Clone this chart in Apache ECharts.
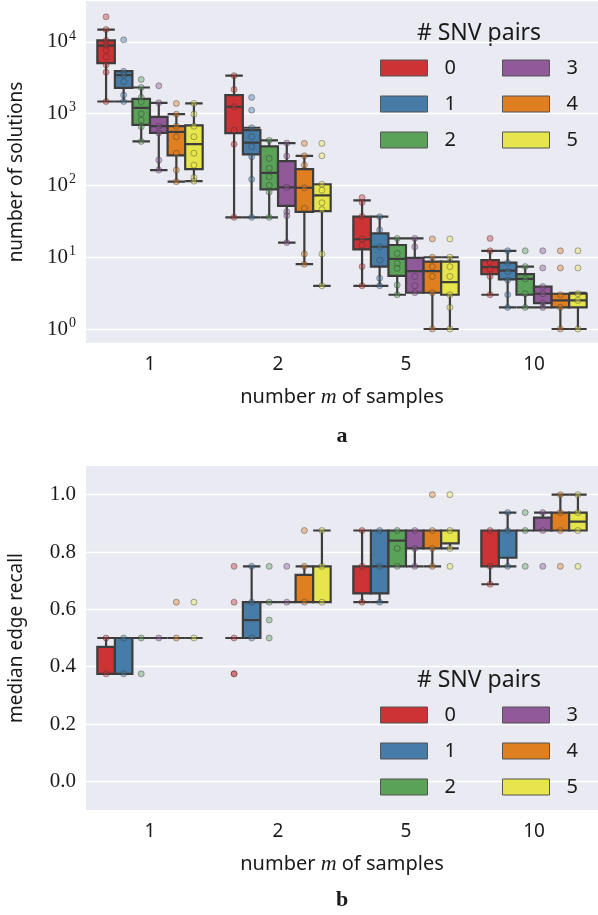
<!DOCTYPE html>
<html>
<head>
<meta charset="utf-8">
<script src="https://cdn.jsdelivr.net/npm/echarts@6/dist/echarts.min.js"></script>
<style>html,body{margin:0;padding:0;background:#fff;}#c{width:598px;height:915px;}</style>
</head>
<body>
<div id="c"></div>
<script>
// ---------- data ----------
const categories = ['1', '2', '5', '10'];
const hues = ['0', '1', '2', '3', '4', '5'];
const colors = ['#cb3335', '#477ca8', '#59a257', '#905998', '#df7f20', '#e6e64c'];

// panel a: number of solutions, box stats [min, Q1, median, Q3, max] per category
const solBox0 = [[1480, 5070, 8900, 10500, 14900], [36, 537, 1250, 1820, 3390], [4, 12.9, 17.8, 36.7, 62], [3, 5.8, 7.3, 9.1, 12.3]];
const solBox1 = [[1480, 2290, 3450, 3920, 3920], [36, 271, 395, 590, 638], [4, 7.4, 14, 21.5, 36.7], [2, 4.9, 6.5, 8.4, 12.3]];
const solBox2 = [[411, 700, 1210, 1610, 2320], [36, 88, 150, 351, 425], [3, 5.5, 9.5, 14.8, 18.3], [2, 3, 5, 5.8, 7.4]];
const solBox3 = [[164, 542, 671, 906, 1420], [16, 52, 94, 218, 390], [3.2, 3.2, 6.4, 9.8, 18.3], [2, 2.3, 3.1, 3.9, 3.9]];
const solBox4 = [[113, 262, 560, 671, 987], [8, 43, 93, 169, 259], [1, 3.2, 6.4, 8.7, 10], [1, 2, 2.5, 3.1, 3.1]];
const solBox5 = [[115, 169, 377, 688, 1390], [4, 44, 73, 104, 104], [1, 3, 4.5, 8.7, 10], [1, 2, 2.5, 3.1, 3.2]];
// observations (strip points) per category
const solPts0 = [[22400, 14900, 10500, 8900, 7700, 6200, 4800, 3800, 1480], [3390, 2180, 1250, 590, 377, 36], [68, 58, 37, 18, 14.8, 7.4, 4], [18.3, 12.3, 8.5, 6.8, 5.4, 3]];
const solPts1 = [[10700, 3900, 3450, 2790, 1820, 1480], [1690, 1120, 638, 478, 348, 251, 122, 36], [36.7, 23.9, 14, 9.1, 5.1, 4], [12.3, 8.4, 6.3, 4.8, 3, 2]];
const solPts2 = [[3000, 2320, 1690, 1470, 1000, 815, 660, 411], [425, 238, 173, 132, 101, 81, 36], [18.3, 11.3, 8.2, 7, 4.1, 3], [12.3, 7.4, 5, 3.1, 2]];
const solPts3 = [[2450, 1420, 670, 540, 226, 164], [390, 257, 94, 43, 38, 16], [18.3, 14, 5.4, 4, 3.2], [12.3, 7.1, 3.9, 3.1, 2.3, 2]];
const solPts4 = [[1390, 987, 670, 478, 282, 164, 113], [386, 259, 192, 93, 48, 11.1, 8], [18, 10, 7.4, 5.4, 3.2, 1], [12.3, 7.1, 3, 2, 1]];
const solPts5 = [[1390, 987, 670, 478, 282, 192, 129, 115], [386, 259, 104, 86, 57.5, 46, 11.1, 4], [18, 10, 7.4, 5.4, 3, 2, 1], [12.3, 7.1, 3.1, 2.5, 1]];

// panel b: median edge recall
const recBox0 = [[0.375, 0.375, 0.375, 0.469, 0.5], [0.5, 0.5, 0.5, 0.5, 0.5], [0.625, 0.656, 0.75, 0.75, 0.875], [0.6875, 0.75, 0.875, 0.875, 0.875]];
const recBox1 = [[0.375, 0.375, 0.5, 0.5, 0.5], [0.5, 0.5, 0.5625, 0.625, 0.75], [0.625, 0.656, 0.75, 0.875, 0.875], [0.75, 0.78, 0.875, 0.875, 0.9375]];
const recBox2 = [[0.5, 0.5, 0.5, 0.5, 0.5], [0.625, 0.625, 0.625, 0.625, 0.625], [0.75, 0.75, 0.84, 0.875, 0.875], [0.875, 0.875, 0.875, 0.875, 0.875]];
const recBox3 = [[0.5, 0.5, 0.5, 0.5, 0.5], [0.625, 0.625, 0.625, 0.625, 0.625], [0.75, 0.8125, 0.875, 0.875, 0.875], [0.875, 0.875, 0.875, 0.92, 0.9375]];
const recBox4 = [[0.5, 0.5, 0.5, 0.5, 0.5], [0.625, 0.625, 0.625, 0.72, 0.75], [0.75, 0.8125, 0.875, 0.875, 0.875], [0.875, 0.875, 0.9375, 0.9375, 1.0]];
const recBox5 = [[0.5, 0.5, 0.5, 0.5, 0.5], [0.625, 0.625, 0.625, 0.75, 0.875], [0.8125, 0.83, 0.875, 0.875, 0.875], [0.875, 0.875, 0.906, 0.9375, 1.0]];
const recPts0 = [[0.5, 0.375], [0.75, 0.625, 0.5, 0.375, 0.375], [0.875, 0.75, 0.625], [0.875, 0.75, 0.6875]];
const recPts1 = [[0.5, 0.375], [0.75, 0.625, 0.5], [0.875, 0.75, 0.625], [0.9375, 0.875, 0.75]];
const recPts2 = [[0.5, 0.375], [0.75, 0.625, 0.5625, 0.5], [0.875, 0.8125, 0.75], [0.9375, 0.875, 0.75]];
const recPts3 = [[0.5], [0.75, 0.625], [0.875, 0.8125, 0.75], [0.9375, 0.875, 0.75]];
const recPts4 = [[0.625, 0.5], [0.875, 0.75, 0.625], [1.0, 0.875, 0.8125, 0.75], [1.0, 0.9375, 0.875, 0.75]];
const recPts5 = [[0.625, 0.5], [0.875, 0.75, 0.625], [1.0, 0.875, 0.8125, 0.75], [1.0, 0.9375, 0.875, 0.75]];

const solBoxes = [solBox0, solBox1, solBox2, solBox3, solBox4, solBox5];
const solPts = [solPts0, solPts1, solPts2, solPts3, solPts4, solPts5];
const recBoxes = [recBox0, recBox1, recBox2, recBox3, recBox4, recBox5];
const recPts = [recPts0, recPts1, recPts2, recPts3, recPts4, recPts5];

// ---------- layout ----------
const W = 598, GL = 86;
const band = (W - GL) / categories.length;
// dodge offsets (same rule as ECharts boxplot layout), in category units
const avail = band * 0.8 - 2;
const gap = avail / hues.length * 0.3;
const bw = (avail - gap * (hues.length - 1)) / hues.length;
const dodge = hues.map((_, h) => (bw / 2 - avail / 2 + h * (gap + bw)) / band);

const SANS = "'Noto Sans', 'DejaVu Sans', sans-serif";
const SERIF = "'Liberation Serif', 'DejaVu Serif', serif";
const TXT = '#1a1a1a';
const EDGE = '#3d3d3d';

const series = [];
[[solBoxes, solPts], [recBoxes, recPts]].forEach(([boxes, pts], p) => {
  hues.forEach((name, h) => {
    series.push({
      name: name, type: 'boxplot', xAxisIndex: p * 2, yAxisIndex: p,
      data: boxes[h], boxWidth: [17.5, 17.5], z: 2, silent: true,
      itemStyle: { color: colors[h], borderColor: EDGE, borderWidth: 2.2 },
      emphasis: { disabled: true }
    });
  });
  hues.forEach((name, h) => {
    const data = [];
    pts[h].forEach((arr, g) => arr.forEach(v => data.push([g + dodge[h], v])));
    series.push({
      name: 'pts' + p + '_' + name, type: 'scatter', xAxisIndex: p * 2 + 1, yAxisIndex: p,
      data: data, symbolSize: 6, z: 3, silent: true,
      itemStyle: { color: colors[h], opacity: 0.4, borderColor: '#333', borderWidth: 1 }
    });
  });
});

function catAxis(gi) {
  return {
    type: 'category', gridIndex: gi, data: categories,
    axisLine: { show: false }, axisTick: { show: false },
    axisLabel: { fontFamily: SANS, fontSize: 19, color: TXT, margin: 12 },
    name: 'number {m|m} of samples', nameLocation: 'middle', nameGap: 43,
    nameTextStyle: { fontFamily: SANS, fontSize: 20, color: TXT,
      rich: { m: { fontFamily: SERIF, fontStyle: 'italic', fontSize: 22, color: TXT } } }
  };
}
function hiddenX(gi) {
  return { type: 'value', gridIndex: gi, min: -0.5, max: 3.5, show: false };
}

function legendCol(names, left, top) {
  return {
    orient: 'vertical', left: left, top: top, padding: 0,
    itemWidth: 47, itemHeight: 16, itemGap: 16, icon: 'rect',
    selectedMode: false,
    data: names.map(n => ({ name: n, itemStyle: { color: colors[+n], borderColor: '#555', borderWidth: 1 } })),
    textStyle: { fontFamily: SANS, fontSize: 20, color: TXT, lineHeight: 16, padding: [0, 0, 0, 12] }
  };
}

const gridBase = { left: GL, right: 0, show: true, backgroundColor: '#eaeaf2', borderWidth: 0, containLabel: false, outerBoundsMode: 'none' };

const option = {
  animation: false,
  backgroundColor: '#ffffff',
  grid: [
    Object.assign({ top: 1, height: 342 }, gridBase),
    Object.assign({ top: 466, height: 344 }, gridBase)
  ],
  xAxis: [catAxis(0), hiddenX(0), catAxis(1), hiddenX(1)],
  yAxis: [
    {
      type: 'log', logBase: 10, gridIndex: 0, min: 0.638, max: 37240,
      axisLine: { show: false }, axisTick: { show: false },
      splitLine: { show: true, showMinLine: false, showMaxLine: false, lineStyle: { color: '#ffffff', width: 1.4 } },
      axisLabel: {
        showMinLabel: false, showMaxLabel: false, margin: 10,
        formatter: v => '10{e|' + Math.round(Math.log10(v)) + '}',
        rich: {
          e: { fontFamily: SERIF, fontSize: 14, color: TXT, padding: [0, 0, 12, 1] }
        },
        fontFamily: SERIF, fontSize: 21, color: TXT
      },
      name: 'number of solutions', nameLocation: 'middle', nameGap: 60,
      nameTextStyle: { fontFamily: SANS, fontSize: 19, color: TXT }
    },
    {
      type: 'value', gridIndex: 1, min: -0.1, max: 1.1,
      axisLine: { show: false }, axisTick: { show: false },
      splitLine: { show: true, showMinLine: false, showMaxLine: false, lineStyle: { color: '#ffffff', width: 1.4 } },
      axisLabel: {
        showMinLabel: false, showMaxLabel: false, margin: 10,
        formatter: v => v.toFixed(1),
        fontFamily: SERIF, fontSize: 21, color: TXT
      },
      name: 'median edge recall', nameLocation: 'middle', nameGap: 60,
      nameTextStyle: { fontFamily: SANS, fontSize: 19, color: TXT }
    }
  ],
  legend: [
    legendCol(['0', '1', '2'], 380, 58),
    legendCol(['3', '4', '5'], 502, 58),
    legendCol(['0', '1', '2'], 380, 705),
    legendCol(['3', '4', '5'], 502, 705)
  ],
  graphic: [
    { type: 'text', x: 479, y: 33, style: { text: '# SNV pairs', fontFamily: SANS, fontSize: 23, fill: TXT, align: 'center', verticalAlign: 'middle' } },
    { type: 'text', x: 479, y: 680, style: { text: '# SNV pairs', fontFamily: SANS, fontSize: 23, fill: TXT, align: 'center', verticalAlign: 'middle' } },
    { type: 'text', x: 342, y: 436, style: { text: 'a', fontFamily: SERIF, fontWeight: 'bold', fontSize: 22, fill: TXT, align: 'center', verticalAlign: 'middle' } },
    { type: 'text', x: 342, y: 900, style: { text: 'b', fontFamily: SERIF, fontWeight: 'bold', fontSize: 22, fill: TXT, align: 'center', verticalAlign: 'middle' } }
  ],
  series: series
};

const chart = echarts.init(document.getElementById('c'), null, { renderer: 'canvas' });
chart.setOption(option);
</script>
</body>
</html>
